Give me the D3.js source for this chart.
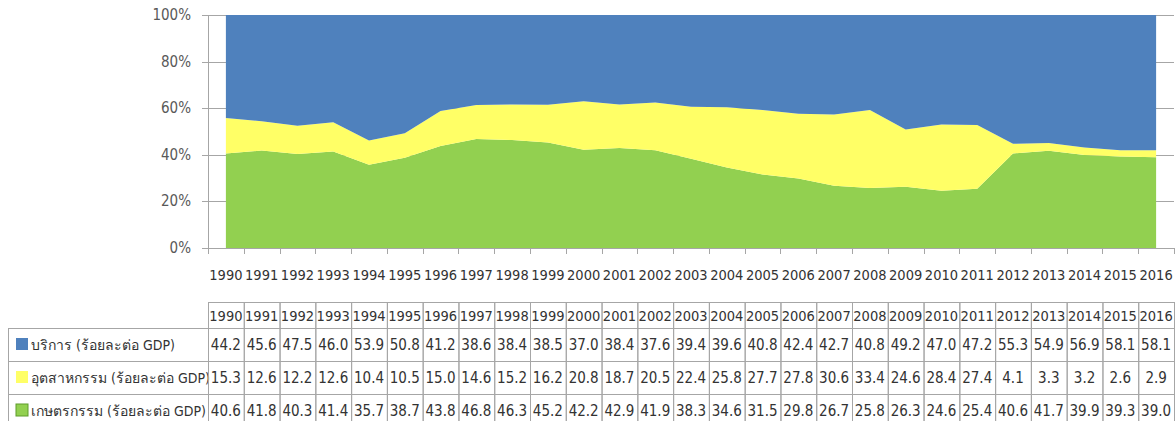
<!DOCTYPE html>
<html>
<head>
<meta charset="utf-8">
<script src="https://cdn.jsdelivr.net/npm/d3@7"></script>
<style>
  body { margin: 0; background: #fff; }
  text { font-family: "DejaVu Sans Condensed", "DejaVu Sans", sans-serif; }
</style>
</head>
<body>
<svg id="chart" width="1176" height="421"></svg>
<script>
const years = ["1990","1991","1992","1993","1994","1995","1996","1997","1998","1999","2000","2001","2002","2003","2004","2005","2006","2007","2008","2009","2010","2011","2012","2013","2014","2015","2016"]

const services = [44.2,45.6,47.5,46.0,53.9,50.8,41.2,38.6,38.4,38.5,37.0,38.4,37.6,39.4,39.6,40.8,42.4,42.7,40.8,49.2,47.0,47.2,55.3,54.9,56.9,58.1,58.1]
const industry = [15.3,12.6,12.2,12.6,10.4,10.5,15.0,14.6,15.2,16.2,20.8,18.7,20.5,22.4,25.8,27.7,27.8,30.6,33.4,24.6,28.4,27.4,4.1,3.3,3.2,2.6,2.9]
const agriculture = [40.6,41.8,40.3,41.4,35.7,38.7,43.8,46.8,46.3,45.2,42.2,42.9,41.9,38.3,34.6,31.5,29.8,26.7,25.8,26.3,24.6,25.4,40.6,41.7,39.9,39.3,39.0]

const seriesNames = ["บริการ (ร้อยละต่อ GDP)", "อุตสาหกรรม (ร้อยละต่อ GDP)", "เกษตรกรรม (ร้อยละต่อ GDP)"]
const yTicks = [0, 0.2, 0.4, 0.6, 0.8, 1]

const colors = { services: "#4F81BD", industry: "#FFFF66", agriculture: "#92D050" }

const svg = d3.select("#chart")

const dims = { left: 208, right: 1174, top: 15, bottom: 248 }

const rows = years.map((y, i) => ({
    year: y,
    agriculture: agriculture[i],
    industry: industry[i],
    services: services[i]
}))

const stack = d3.stack()
    .keys(["agriculture", "industry", "services"])
    .offset(d3.stackOffsetExpand)
const layers = stack(rows)

const xScale = d3.scaleBand()
    .domain(years)
    .range([dims.left, dims.right])

const yScale = d3.scaleLinear()
    .domain([0, 1])
    .range([dims.bottom, dims.top])

// gridlines
svg.append("g")
    .selectAll("line")
    .data(yTicks)
    .join("line")
      .attr("x1", dims.left - 6)
      .attr("x2", dims.right)
      .attr("y1", d => Math.round(yScale(d)) + 0.5)
      .attr("y2", d => Math.round(yScale(d)) + 0.5)
      .attr("stroke", "#a6a6a6")

// areas
const area = d3.area()
    .x(d => xScale(d.data.year) + xScale.bandwidth() / 2)
    .y0(d => yScale(d[0]))
    .y1(d => yScale(d[1]))

svg.append("g")
    .selectAll("path")
    .data(layers)
    .join("path")
      .attr("d", area)
      .attr("fill", d => colors[d.key])

// y axis line and labels
svg.append("line")
    .attr("x1", dims.left + 0.5).attr("x2", dims.left + 0.5)
    .attr("y1", dims.top).attr("y2", dims.bottom + 6)
    .attr("stroke", "#a6a6a6")

svg.append("g")
    .selectAll("text")
    .data(yTicks)
    .join("text")
      .attr("x", 191)
      .attr("y", d => yScale(d) + 5)
      .attr("text-anchor", "end")
      .attr("font-size", 15)
      .attr("fill", "#595959")
      .text(d => d3.format(".0%")(d))

// x axis ticks at band boundaries
svg.append("g")
    .selectAll("line")
    .data(years)
    .join("line")
      .attr("x1", d => Math.round(xScale(d) + xScale.bandwidth()) + 0.5)
      .attr("x2", d => Math.round(xScale(d) + xScale.bandwidth()) + 0.5)
      .attr("y1", dims.bottom)
      .attr("y2", dims.bottom + 6)
      .attr("stroke", "#a6a6a6")

svg.append("g")
    .selectAll("text")
    .data(years)
    .join("text")
      .attr("x", d => xScale(d) + xScale.bandwidth() / 2)
      .attr("y", 280)
      .attr("text-anchor", "middle")
      .attr("font-size", 14.5)
      .attr("fill", "#333")
      .text(d => d)

// data table
const table = { headTop: 302, headBottom: 328, rowH: 33, labelLeft: 8 }
const tableValues = [services, industry, agriculture]
const keyOrder = ["services", "industry", "agriculture"]
const border = "#a6a6a6"

const tbl = svg.append("g")

tbl.selectAll("rect.head")
    .data(years)
    .join("rect")
      .attr("class", "head")
      .attr("x", d => xScale(d) + 0.5)
      .attr("y", table.headTop + 0.5)
      .attr("width", xScale.bandwidth())
      .attr("height", table.headBottom - table.headTop)
      .attr("fill", "none")
      .attr("stroke", border)

tbl.selectAll("text.head")
    .data(years)
    .join("text")
      .attr("class", "head")
      .attr("x", d => xScale(d) + xScale.bandwidth() / 2)
      .attr("y", table.headBottom - 7)
      .attr("text-anchor", "middle")
      .attr("font-size", 14.5)
      .attr("fill", "#333")
      .text(d => d)

tableValues.forEach((vals, r) => {
    const top = table.headBottom + r * table.rowH
    const g = tbl.append("g")

    g.append("rect")
        .attr("x", table.labelLeft + 0.5)
        .attr("y", top + 0.5)
        .attr("width", dims.left - table.labelLeft)
        .attr("height", table.rowH)
        .attr("fill", "none")
        .attr("stroke", border)

    g.append("rect")
        .attr("x", 16)
        .attr("y", top + 10)
        .attr("width", 12)
        .attr("height", 12)
        .attr("fill", colors[keyOrder[r]])
        .attr("stroke", r === 2 ? "#5e9c2a" : "none")

    g.append("text")
        .attr("x", 31)
        .attr("y", top + 22)
        .attr("font-size", 14)
        .attr("fill", "#333")
        .text(seriesNames[r])

    g.selectAll("rect.cell")
        .data(years)
        .join("rect")
          .attr("class", "cell")
          .attr("x", d => xScale(d) + 0.5)
          .attr("y", top + 0.5)
          .attr("width", xScale.bandwidth())
          .attr("height", table.rowH)
          .attr("fill", "none")
          .attr("stroke", border)

    g.selectAll("text.cell")
        .data(vals)
        .join("text")
          .attr("class", "cell")
          .attr("x", (d, i) => xScale(years[i]) + xScale.bandwidth() / 2)
          .attr("y", top + 22)
          .attr("text-anchor", "middle")
          .attr("font-size", 15)
          .attr("fill", "#333")
          .text(d => d.toFixed(1))
})
</script>
</body>
</html>
